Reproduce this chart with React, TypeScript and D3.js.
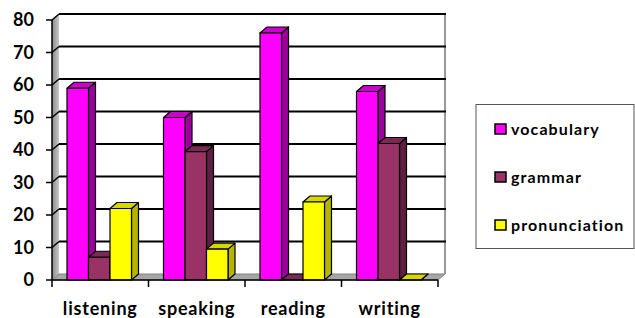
import React from "react";
import * as d3 from "d3";

const categories = ["listening", "speaking", "reading", "writing"];
const seriesNames = ["vocabulary", "grammar", "pronunciation"];
const vocabulary = [59, 50, 76, 58];
const grammar = [7, 39.5, 0, 42];
const pronunciation = [22, 9.5, 24, 0];
const yTicks = [0, 10, 20, 30, 40, 50, 60, 70, 80];

const seriesValues = [vocabulary, grammar, pronunciation];
const colors = [
  { front: "#FF00FF", side: "#9C009C", top: "#CC00CC" },
  { front: "#993366", side: "#5E1F40", top: "#7A2952" },
  { front: "#FFFF00", side: "#B5B500", top: "#D6D600" },
];

const W = 635;
const H = 318;
const DX = 7;
const DY = -6;
const FONT = "Lato, 'Open Sans', sans-serif";

export default function App() {
  const x = d3.scaleBand<string>().domain(categories).range([52, 438]).paddingInner(0).paddingOuter(0);
  const inner = d3
    .scaleBand<string>()
    .domain(seriesNames)
    .range([15, 15 + 64.5])
    .padding(0);
  const y = d3.scaleLinear().domain([0, 80]).range([280, 20]);
  const x0 = 52;
  const x1 = 438;
  const y0 = y(0);
  const yTop = y(80);

  const pts = (p: number[][]) => p.map((q) => q.join(",")).join(" ");

  const bars: React.ReactNode[] = [];
  categories.forEach((c, ci) => {
    seriesNames.forEach((s, si) => {
      const v = seriesValues[si][ci];
      const bx = (x(c) as number) + (inner(s) as number);
      const bw = inner.bandwidth();
      const by = y(v);
      const col = colors[si];
      bars.push(
        <g key={c + s} stroke="#000" strokeWidth={1.2} strokeLinejoin="round">
          <polygon
            points={pts([
              [bx + bw, by],
              [bx + bw + DX, by + DY],
              [bx + bw + DX, y0 + DY],
              [bx + bw, y0],
            ])}
            fill={col.side}
          />
          <polygon
            points={pts([
              [bx, by],
              [bx + DX, by + DY],
              [bx + bw + DX, by + DY],
              [bx + bw, by],
            ])}
            fill={col.top}
          />
          {v > 0 && <rect x={bx} y={by} width={bw} height={y0 - by} fill={col.front} />}
        </g>
      );
    });
  });

  return (
    <svg
      width={W}
      height={H}
      style={{ position: "absolute", left: 0, top: 0, background: "#fff" }}
      fontFamily={FONT}
    >
      <defs>
        <linearGradient id="wallGrad" x1="0" x2="1" y1="0" y2="0">
          <stop offset="0" stopColor="#8a8a8a" />
          <stop offset="1" stopColor="#c8c8c8" />
        </linearGradient>
      </defs>
      <rect x={x0 + DX} y={yTop + DY} width={x1 - x0} height={y0 - yTop} fill="#fff" />
      <polygon
        points={pts([
          [x0, yTop],
          [x0 + DX, yTop + DY],
          [x0 + DX, y0 + DY],
          [x0, y0],
        ])}
        fill="url(#wallGrad)"
      />
      <polygon
        points={pts([
          [x0, y0],
          [x1, y0],
          [x1 + DX, y0 + DY],
          [x0 + DX, y0 + DY],
        ])}
        fill="#a6a6a6"
        stroke="#808080"
        strokeWidth={1}
      />
      <line x1={x1 + DX} x2={x1 + DX} y1={yTop + DY} y2={y0 + DY} stroke="#999" strokeWidth={2} />
      {yTicks.map((t) =>
        t === 0 ? null : (
          <g key={t}>
            <line x1={x0 + DX} x2={x1 + DX + 1} y1={y(t) + DY} y2={y(t) + DY} stroke="#000" strokeWidth={2} />
            <line x1={x0} x2={x0 + DX} y1={y(t)} y2={y(t) + DY} stroke="#000" strokeWidth={1.5} />
          </g>
        )
      )}
      <line x1={x0} x2={x0} y1={yTop} y2={y0} stroke="#000" strokeWidth={1.5} />
      {yTicks.map((t) => (
        <g key={"t" + t}>
          <line x1={x0 - 6} x2={x0} y1={y(t)} y2={y(t)} stroke="#000" strokeWidth={1.5} />
          <text x={34} y={y(t)} dy="0.36em" textAnchor="end" fontSize={18} fontWeight="bold" fill="#000">
            {t}
          </text>
        </g>
      ))}
      {bars}
      <line x1={x0} x2={x1} y1={y0} y2={y0} stroke="#000" strokeWidth={1.5} />
      {[...categories.map((c) => x(c) as number), x1].map((px, i) => (
        <line key={"bt" + i} x1={px} x2={px} y1={y0} y2={y0 + 7} stroke="#000" strokeWidth={1.5} />
      ))}
      {categories.map((c) => (
        <text
          key={c}
          x={(x(c) as number) + x.bandwidth() / 2}
          y={315}
          textAnchor="middle"
          fontSize={18}
          fontWeight="bold"
          letterSpacing={0.8}
          fill="#000"
        >
          {c}
        </text>
      ))}
      <rect x={476} y={104.5} width={158} height={144} fill="#fff" stroke="#555" strokeWidth={1} />
      {seriesNames.map((s, i) => (
        <g key={s} transform={`translate(495, ${129 + i * 48})`}>
          <rect x={0} y={-5} width={11} height={10} fill={colors[i].front} stroke="#000" strokeWidth={1.5} />
          <text x={16} y={0} dy="0.35em" fontSize={16} fontWeight="bold" letterSpacing={1.1} fill="#000">
            {s}
          </text>
        </g>
      ))}
    </svg>
  );
}
